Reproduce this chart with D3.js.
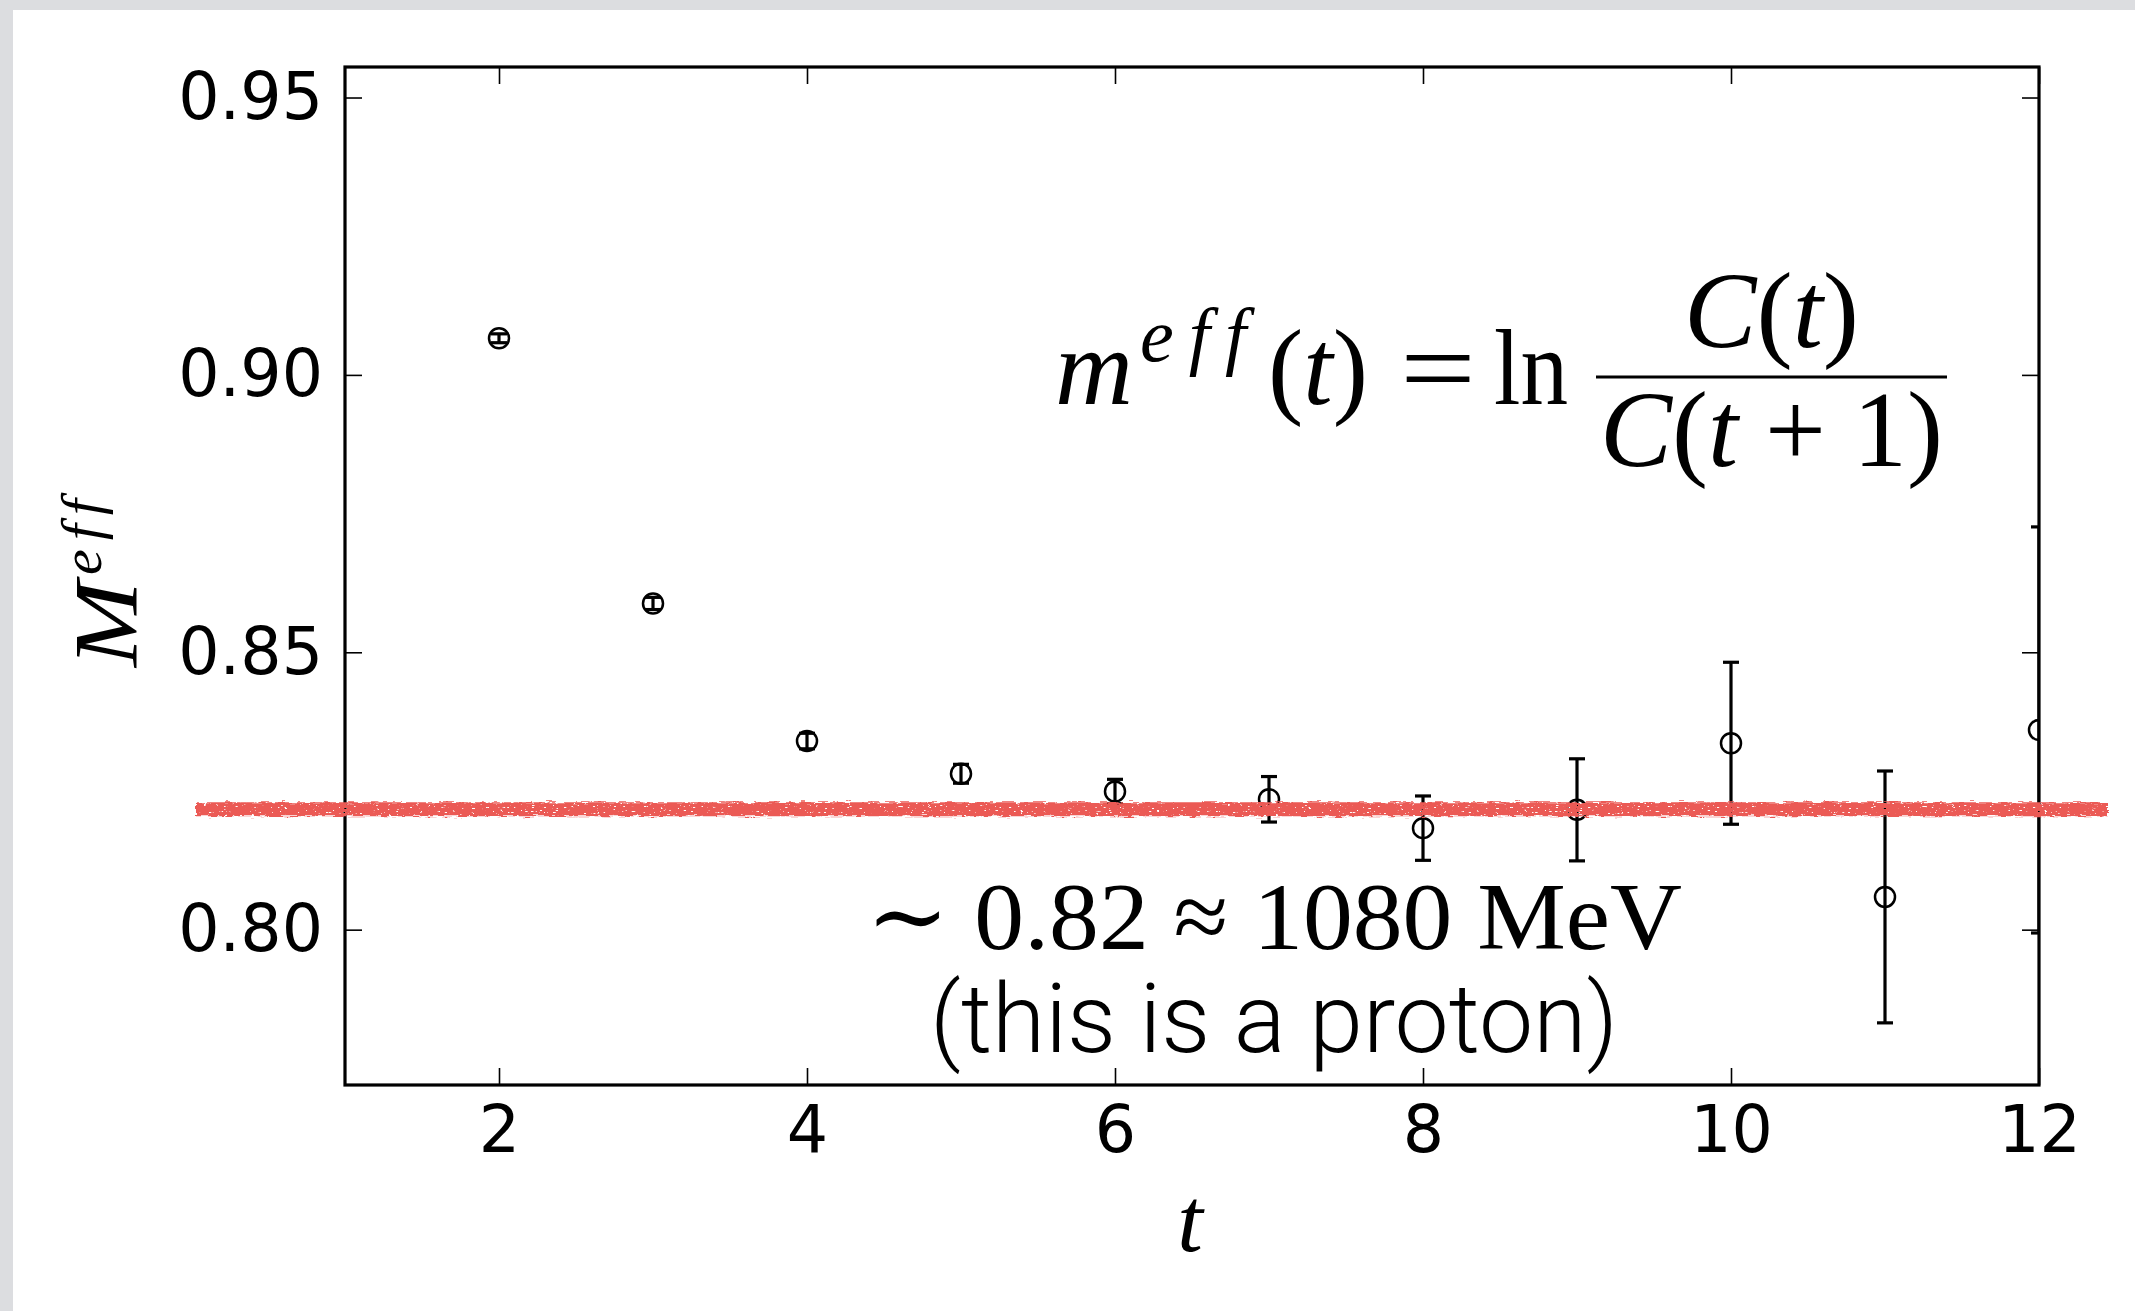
<!DOCTYPE html>
<html>
<head>
<meta charset="utf-8">
<script src="https://cdn.jsdelivr.net/npm/d3@7"></script>
<style>
  html, body { margin: 0; padding: 0; background: #dcdde0; }
  svg { display: block; }
  text { font-variant-ligatures: none; font-feature-settings: "liga" 0; }
</style>
</head>
<body>
<svg id="chart" width="2135" height="1311"></svg>
<script>
// Effective mass per time slice, with jackknife errors
const tValues = [2, 3, 4, 5, 6, 7, 8, 9, 10, 11, 12];
const meffValues = [0.9066, 0.8588, 0.8340, 0.8281, 0.8249, 0.8235, 0.8183, 0.8216, 0.8336, 0.8059, 0.8360];
const meffErrors = [0.0008, 0.0011, 0.0014, 0.0017, 0.0022, 0.0041, 0.0058, 0.0092, 0.0146, 0.0227, 0.0366];

// Plateau estimate and its physical-units annotation
const plateauValue = [0.8217];
const plateauMeV = [1080];

// Axis ticks
const xTicks = [2, 4, 6, 8, 10, 12];
const yTicks = [0.80, 0.85, 0.90, 0.95];
const xDomain = [1, 12];
const yDomain = [0.772, 0.9555];

const svg = d3.select("#chart");

// White card on grey page
svg.append("rect").attr("x", 0).attr("y", 0).attr("width", 2135).attr("height", 1311).attr("fill", "#dcdde0");
svg.append("rect").attr("x", 13).attr("y", 10).attr("width", 2122).attr("height", 1301).attr("fill", "#ffffff");

const plot = { left: 345, right: 2039, top: 67, bottom: 1085 };
const x = d3.scaleLinear().domain(xDomain).range([plot.left, plot.right]);
const y = d3.scaleLinear().domain(yDomain).range([plot.bottom, plot.top]);

const defs = svg.append("defs");
defs.append("clipPath").attr("id", "plotClip")
  .append("rect")
  .attr("x", plot.left).attr("y", plot.top)
  .attr("width", plot.right - plot.left).attr("height", plot.bottom - plot.top);

// Crayon-like texture for the plateau stroke
const f = defs.append("filter").attr("id", "crayon")
  .attr("filterUnits", "userSpaceOnUse")
  .attr("x", 0).attr("y", 0).attr("width", 2135).attr("height", 1311);
f.append("feTurbulence").attr("type", "fractalNoise").attr("baseFrequency", "0.09 0.7")
  .attr("numOctaves", 2).attr("seed", 3).attr("result", "n1");
f.append("feDisplacementMap").attr("in", "SourceGraphic").attr("in2", "n1").attr("scale", 6)
  .attr("xChannelSelector", "R").attr("yChannelSelector", "G").attr("result", "d");
f.append("feTurbulence").attr("type", "fractalNoise").attr("baseFrequency", "0.25 0.8")
  .attr("numOctaves", 2).attr("seed", 11).attr("result", "n2");
f.append("feColorMatrix").attr("in", "n2").attr("type", "matrix")
  .attr("values", "0 0 0 0 0  0 0 0 0 0  0 0 0 0 0  14 0 0 0 -3.4").attr("result", "holes");
f.append("feComposite").attr("in", "d").attr("in2", "holes").attr("operator", "in");

const tickFont = "'DejaVu Sans', sans-serif";
const tickSize = 65;

// Axes: inward ticks on all four sides
const gx = svg.append("g").attr("transform", `translate(0,${plot.bottom})`)
  .call(d3.axisBottom(x).tickValues(xTicks).tickFormat(d3.format("d")).tickSize(-17).tickSizeOuter(0).tickPadding(21));
const gy = svg.append("g").attr("transform", `translate(${plot.left},0)`)
  .call(d3.axisLeft(y).tickValues(yTicks).tickFormat(d3.format(".2f")).tickSize(-17).tickSizeOuter(0).tickPadding(22));
const gxt = svg.append("g").attr("transform", `translate(0,${plot.top})`)
  .call(d3.axisTop(x).tickValues(xTicks).tickFormat("").tickSize(-17).tickSizeOuter(0));
const gyr = svg.append("g").attr("transform", `translate(${plot.right},0)`)
  .call(d3.axisRight(y).tickValues(yTicks).tickFormat("").tickSize(-17).tickSizeOuter(0));

[gx, gy, gxt, gyr].forEach(g => {
  g.select(".domain").remove();
  g.selectAll(".tick line").attr("stroke", "#000").attr("stroke-width", 1.6);
  g.selectAll(".tick text").attr("fill", "#000")
    .attr("font-family", tickFont).attr("font-size", tickSize);
});

// Data: open circles with error bars
const data = tValues.map((t, i) => ({ t, m: meffValues[i], e: meffErrors[i] }));
const marks = svg.append("g").attr("clip-path", "url(#plotClip)");
const capHalf = 8;
const barWidth = 3.2;
const pts = marks.selectAll("g.pt").data(data).join("g").attr("class", "pt");
pts.append("line")
  .attr("x1", d => x(d.t)).attr("x2", d => x(d.t))
  .attr("y1", d => y(d.m - d.e)).attr("y2", d => y(d.m + d.e))
  .attr("stroke", "#000").attr("stroke-width", barWidth);
pts.append("line")
  .attr("x1", d => x(d.t) - capHalf).attr("x2", d => x(d.t) + capHalf)
  .attr("y1", d => y(d.m + d.e)).attr("y2", d => y(d.m + d.e))
  .attr("stroke", "#000").attr("stroke-width", barWidth);
pts.append("line")
  .attr("x1", d => x(d.t) - capHalf).attr("x2", d => x(d.t) + capHalf)
  .attr("y1", d => y(d.m - d.e)).attr("y2", d => y(d.m - d.e))
  .attr("stroke", "#000").attr("stroke-width", barWidth);
pts.append("circle")
  .attr("cx", d => x(d.t)).attr("cy", d => y(d.m)).attr("r", 10)
  .attr("fill", "none").attr("stroke", "#000").attr("stroke-width", 2.5);

// Frame
svg.append("rect")
  .attr("x", plot.left).attr("y", plot.top)
  .attr("width", plot.right - plot.left).attr("height", plot.bottom - plot.top)
  .attr("fill", "none").attr("stroke", "#000").attr("stroke-width", 3.2);

// Plateau stroke
svg.append("line")
  .attr("x1", 196).attr("x2", 2108)
  .attr("y1", y(plateauValue[0])).attr("y2", y(plateauValue[0]))
  .attr("stroke", "#eb5a55").attr("stroke-width", 14)
  .attr("filter", "url(#crayon)");

const serif = "'Liberation Serif', 'DejaVu Serif', serif";

// Axis labels
svg.append("text")
  .attr("x", 1190).attr("y", 1251).attr("text-anchor", "middle")
  .attr("font-family", serif).attr("font-style", "italic").attr("font-size", 92)
  .text("t");

const yl = svg.append("g").attr("transform", "translate(137,667) rotate(-90)");
yl.append("text").attr("x", 0).attr("y", 0)
  .attr("font-family", serif).attr("font-style", "italic").attr("font-size", 90)
  .attr("textLength", 86).attr("lengthAdjust", "spacingAndGlyphs")
  .text("M");
yl.append("text").attr("x", 92).attr("y", -36)
  .attr("font-family", serif).attr("font-style", "italic").attr("font-size", 58)
  .attr("textLength", 76).attr("lengthAdjust", "spacing")
  .text("eff");

// Effective-mass definition
const eqSize = 108;
function eqText(xs, ys, len, parts, size, adjust) {
  const t = svg.append("text").attr("x", xs).attr("y", ys)
    .attr("font-family", serif).attr("font-size", size || eqSize)
    .attr("textLength", len).attr("lengthAdjust", adjust || "spacingAndGlyphs");
  parts.forEach(([s, it]) => t.append("tspan").attr("font-style", it ? "italic" : "normal").text(s));
  return t;
}
eqText(1055, 404, 78, [["m", true]]);
eqText(1140, 361, 106, [["eff", true]], 76, "spacing");
eqText(1268, 404, 100, [["(", false], ["t", true], [")", false]]);
eqText(1400, 404, 76, [["=", false]]);
eqText(1494, 404, 74, [["ln", false]]);
svg.append("line").attr("x1", 1596).attr("x2", 1947).attr("y1", 377).attr("y2", 377)
  .attr("stroke", "#000").attr("stroke-width", 3);
eqText(1684, 347, 175, [["C", true], ["(", false], ["t", true], [")", false]]);
eqText(1600, 466, 343, [["C", true], ["(", false], ["t", true], [" + 1)", false]]);

// Plateau annotation
svg.append("text")
  .attr("x", 866).attr("y", 949)
  .attr("font-family", serif).attr("font-size", 96)
  .attr("textLength", 816).attr("lengthAdjust", "spacingAndGlyphs")
  .text(`\u223C ${d3.format(".2f")(plateauValue[0])} \u2248 ${plateauMeV[0]} MeV`);
svg.append("text")
  .attr("x", 930).attr("y", 1052)
  .attr("font-family", "Roboto, 'Open Sans', sans-serif").attr("font-weight", 300).attr("font-size", 96)
  .attr("textLength", 688).attr("lengthAdjust", "spacingAndGlyphs")
  .text("(this is a proton)");
</script>
</body>
</html>
